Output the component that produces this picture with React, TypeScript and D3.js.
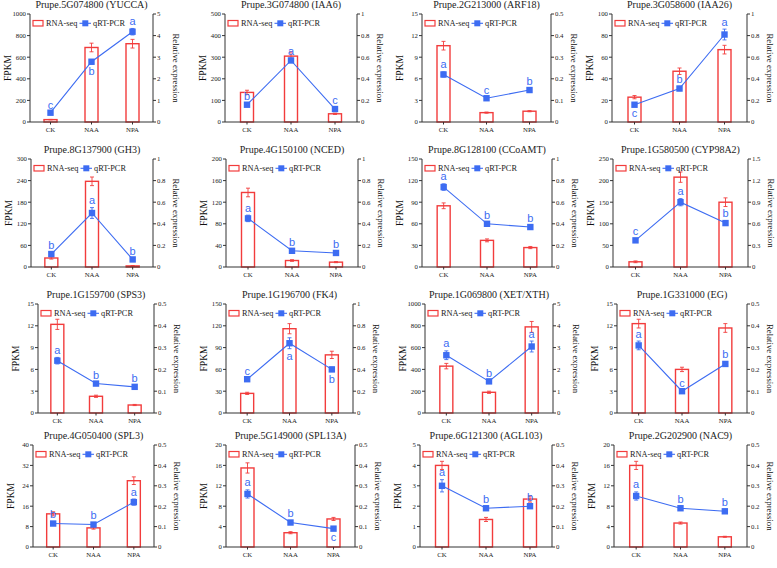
import React from 'react';
import * as d3 from 'd3';

const categories = ['CK', 'NAA', 'NPA'];
const titles = [
  'Prupe.5G074800 (YUCCA)', 'Prupe.3G074800 (IAA6)', 'Prupe.2G213000 (ARF18)', 'Prupe.3G058600 (IAA26)',
  'Prupe.8G137900 (GH3)', 'Prupe.4G150100 (NCED)', 'Prupe.8G128100 (CCoAMT)', 'Prupe.1G580500 (CYP98A2)',
  'Prupe.1G159700 (SPS3)', 'Prupe.1G196700 (FK4)', 'Prupe.1G069800 (XET/XTH)', 'Prupe.1G331000 (EG)',
  'Prupe.4G050400 (SPL3)', 'Prupe.5G149000 (SPL13A)', 'Prupe.6G121300 (AGL103)', 'Prupe.2G202900 (NAC9)',
];
const fpkmMax = [1000, 500, 15, 100, 300, 200, 150, 250, 15, 150, 1000, 15, 40, 20, 5, 20];
const fpkmStep = [200, 100, 3, 20, 60, 40, 30, 50, 3, 30, 200, 3, 8, 4, 1, 4];
const relMax = [5, 1, 0.5, 1, 1, 1, 1, 1.5, 0.5, 1, 5, 0.5, 0.5, 0.5, 0.5, 0.5];
const relStep = [1, 0.2, 0.1, 0.2, 0.2, 0.2, 0.2, 0.3, 0.1, 0.2, 1, 0.1, 0.1, 0.1, 0.1, 0.1];

const rnaSeq = [
  [22, 690, 725], [137, 305, 38], [10.6, 1.3, 1.5], [23, 47, 67],
  [25, 238, 3], [138, 12, 9], [85, 37, 27], [12, 208, 150],
  [12.2, 2.3, 1.1], [27, 116, 80], [430, 190, 790], [12.3, 6.0, 11.7],
  [13, 7.5, 26], [15.5, 2.8, 5.5], [4.0, 1.35, 2.35], [16, 4.7, 2.0],
];
const rnaSeqErr = [
  [2, 40, 40], [10, 20, 3], [0.6, 0.08, 0.08], [1.5, 3, 4],
  [3, 12, 1], [8, 1.5, 1], [4, 2, 1.5], [2, 12, 10],
  [0.7, 0.15, 0.08], [1.5, 7, 5], [25, 10, 50], [0.6, 0.3, 0.6],
  [0.8, 0.5, 1.5], [1, 0.2, 0.3], [0.2, 0.1, 0.15], [0.8, 0.2, 0.1],
];
const qpcr = [
  [0.43, 2.79, 4.18], [0.16, 0.57, 0.12], [0.22, 0.11, 0.148], [0.16, 0.31, 0.81],
  [0.12, 0.5, 0.07], [0.45, 0.15, 0.13], [0.74, 0.4, 0.37], [0.37, 0.9, 0.61],
  [0.24, 0.135, 0.12], [0.31, 0.64, 0.4], [2.65, 1.45, 3.05], [0.31, 0.1, 0.225],
  [0.115, 0.11, 0.22], [0.26, 0.12, 0.09], [0.3, 0.19, 0.2], [0.25, 0.19, 0.175],
];
const qpcrErr = [
  [0.02, 0.1, 0.15], [0.01, 0.02, 0.01], [0.012, 0.005, 0.005], [0.01, 0.02, 0.05],
  [0.01, 0.05, 0.005], [0.03, 0.01, 0.01], [0.03, 0.01, 0.01], [0.02, 0.05, 0.03],
  [0.015, 0.005, 0.005], [0.01, 0.05, 0.02], [0.2, 0.05, 0.25], [0.02, 0.005, 0.01],
  [0.008, 0.008, 0.015], [0.02, 0.008, 0.005], [0.03, 0.01, 0.01], [0.02, 0.01, 0.01],
];
const letters = [
  ['c', 'b', 'a'], ['b', 'a', 'c'], ['a', 'c', 'b'], ['c', 'b', 'a'],
  ['b', 'a', 'b'], ['a', 'b', 'b'], ['a', 'b', 'b'], ['c', 'a', 'b'],
  ['a', 'b', 'b'], ['c', 'a', 'b'], ['a', 'b', 'a'], ['a', 'c', 'b'],
  ['b', 'b', 'a'], ['a', 'b', 'c'], ['a', 'b', 'b'], ['a', 'b', 'b'],
];
const letterBelow = [
  [0, 1, 0], [0, 0, 0], [0, 0, 0], [1, 0, 0],
  [0, 0, 0], [0, 0, 0], [0, 0, 0], [0, 0, 0],
  [0, 0, 0], [0, 1, 1], [0, 0, 0], [0, 0, 0],
  [0, 0, 0], [0, 0, 1], [0, 0, 0], [0, 0, 0],
];

// layout
const panelLeft = [30, 225, 422, 612, 31, 226, 422, 613, 38, 226, 425, 617, 33, 226, 420, 614];
const panelRight = [153, 357, 551, 747, 153, 358, 552, 748, 154, 353, 553, 747, 154, 355, 552, 747];
const rowTop = [14, 159, 304, 445];
const rowBottom = [122, 267, 413, 547];

const RED = '#f23c3c';
const BLUE = '#3d6cf2';
const AXIS = '#333';
const SERIF = '"Liberation Serif", "Times New Roman", serif';
const SANS = '"Liberation Sans", Arial, sans-serif';

const fmt = (v: number) => String(Number(v.toFixed(3)));

function Panel({ i }: { i: number }) {
  const row = Math.floor(i / 4);
  const left = panelLeft[i];
  const right = panelRight[i];
  const top = rowTop[row];
  const bottom = rowBottom[row];
  const x = d3.scaleBand<string>().domain(categories).range([left, right]).padding(0);
  const yL = d3.scaleLinear().domain([0, fpkmMax[i]]).range([bottom, top]);
  const yR = d3.scaleLinear().domain([0, relMax[i]]).range([bottom, top]);
  const ticksL = d3.range(0, fpkmMax[i] + fpkmStep[i] / 2, fpkmStep[i]);
  const ticksR = d3.range(0, relMax[i] + relStep[i] / 2, relStep[i]);
  const cx = (c: string) => (x(c) as number) + x.bandwidth() / 2;
  const barW = 13;
  const line = d3.line<number>().x((_, j) => cx(categories[j])).y((d) => yR(d));
  const midY = (top + bottom) / 2;
  return (
    <g>
      <text x={(left + right) / 2} y={top - 6} textAnchor="middle" fontFamily={SERIF} fontSize={10} fill="#222">{titles[i]}</text>
      {categories.map((c, j) => {
        const v = rnaSeq[i][j];
        const e = rnaSeqErr[i][j];
        const xc = cx(c);
        const lo = yL(Math.max(0, v - e));
        const hi = yL(v + e);
        return (
          <g key={'b' + j}>
            <rect x={xc - barW / 2} y={yL(v)} width={barW} height={bottom - yL(v)} fill="white" stroke={RED} strokeWidth={1.4} />
            <line x1={xc} x2={xc} y1={hi} y2={lo} stroke={RED} strokeWidth={0.9} />
            <line x1={xc - 2} x2={xc + 2} y1={hi} y2={hi} stroke={RED} strokeWidth={0.9} />
            <line x1={xc - 2} x2={xc + 2} y1={lo} y2={lo} stroke={RED} strokeWidth={0.9} />
          </g>
        );
      })}
      <path d={line(qpcr[i]) || ''} fill="none" stroke={BLUE} strokeWidth={1.1} />
      {categories.map((c, j) => {
        const v = qpcr[i][j];
        const e = qpcrErr[i][j];
        const xc = cx(c);
        const below = letterBelow[i][j] === 1;
        const ly = below ? yR(v - e) + 11 : yR(v + e) - 3.5;
        return (
          <g key={'q' + j}>
            <line x1={xc} x2={xc} y1={yR(v + e)} y2={yR(v - e)} stroke={BLUE} strokeWidth={0.9} />
            <line x1={xc - 2} x2={xc + 2} y1={yR(v + e)} y2={yR(v + e)} stroke={BLUE} strokeWidth={0.9} />
            <line x1={xc - 2} x2={xc + 2} y1={yR(v - e)} y2={yR(v - e)} stroke={BLUE} strokeWidth={0.9} />
            <rect x={xc - 3.2} y={yR(v) - 3.2} width={6.4} height={6.4} fill={BLUE} />
            <text x={xc} y={ly} textAnchor="middle" fontFamily={SANS} fontSize={11} fill={BLUE}>{letters[i][j]}</text>
          </g>
        );
      })}
      <line x1={left} x2={left} y1={top} y2={bottom} stroke={AXIS} strokeWidth={1} />
      <line x1={right} x2={right} y1={top} y2={bottom} stroke={AXIS} strokeWidth={1} />
      <line x1={left} x2={right} y1={bottom} y2={bottom} stroke={AXIS} strokeWidth={1} />
      {ticksL.map((t) => (
        <g key={'tl' + t}>
          <line x1={left - 3} x2={left} y1={yL(t)} y2={yL(t)} stroke={AXIS} />
          <text x={left - 4} y={yL(t) + 2.3} textAnchor="end" fontFamily={SERIF} fontSize={6.8} fill="#222">{fmt(t)}</text>
        </g>
      ))}
      {ticksR.map((t) => (
        <g key={'tr' + t}>
          <line x1={right} x2={right + 3} y1={yR(t)} y2={yR(t)} stroke={AXIS} />
          <text x={right + 4} y={yR(t) + 2.3} textAnchor="start" fontFamily={SERIF} fontSize={6.8} fill="#222">{fmt(t)}</text>
        </g>
      ))}
      {categories.map((c) => (
        <g key={'tx' + c}>
          <line x1={cx(c)} x2={cx(c)} y1={bottom} y2={bottom + 2.5} stroke={AXIS} />
          <text x={cx(c)} y={bottom + 10} textAnchor="middle" fontFamily={SERIF} fontSize={6.8} fill="#222">{c}</text>
        </g>
      ))}
      <text transform={`translate(${left - 19},${midY}) rotate(-90)`} textAnchor="middle" fontFamily={SERIF} fontSize={9.5} fill="#111">FPKM</text>
      <text transform={`translate(${right + 20},${midY}) rotate(90)`} textAnchor="middle" fontFamily={SERIF} fontSize={8.8} fill="#111">Relative expression</text>
      <rect x={left + 3} y={top + 6.5} width={10} height={5.5} fill="white" stroke={RED} strokeWidth={1.2} />
      <text x={left + 16} y={top + 12} fontFamily={SERIF} fontSize={8.3} fill="#222">RNA-seq</text>
      <line x1={left + 49.5} x2={left + 61} y1={top + 9.3} y2={top + 9.3} stroke={BLUE} strokeWidth={1.1} />
      <rect x={left + 52.3} y={top + 6.3} width={6} height={6} fill={BLUE} />
      <text x={left + 63} y={top + 12} fontFamily={SERIF} fontSize={8.3} fill="#222">qRT-PCR</text>
    </g>
  );
}

export default function App() {
  return (
    <svg width={777} height={568} style={{ position: 'absolute', left: 0, top: 0, background: 'white' }}>
      <rect width={777} height={568} fill="white" />
      {titles.map((_, i) => (
        <Panel key={i} i={i} />
      ))}
    </svg>
  );
}
